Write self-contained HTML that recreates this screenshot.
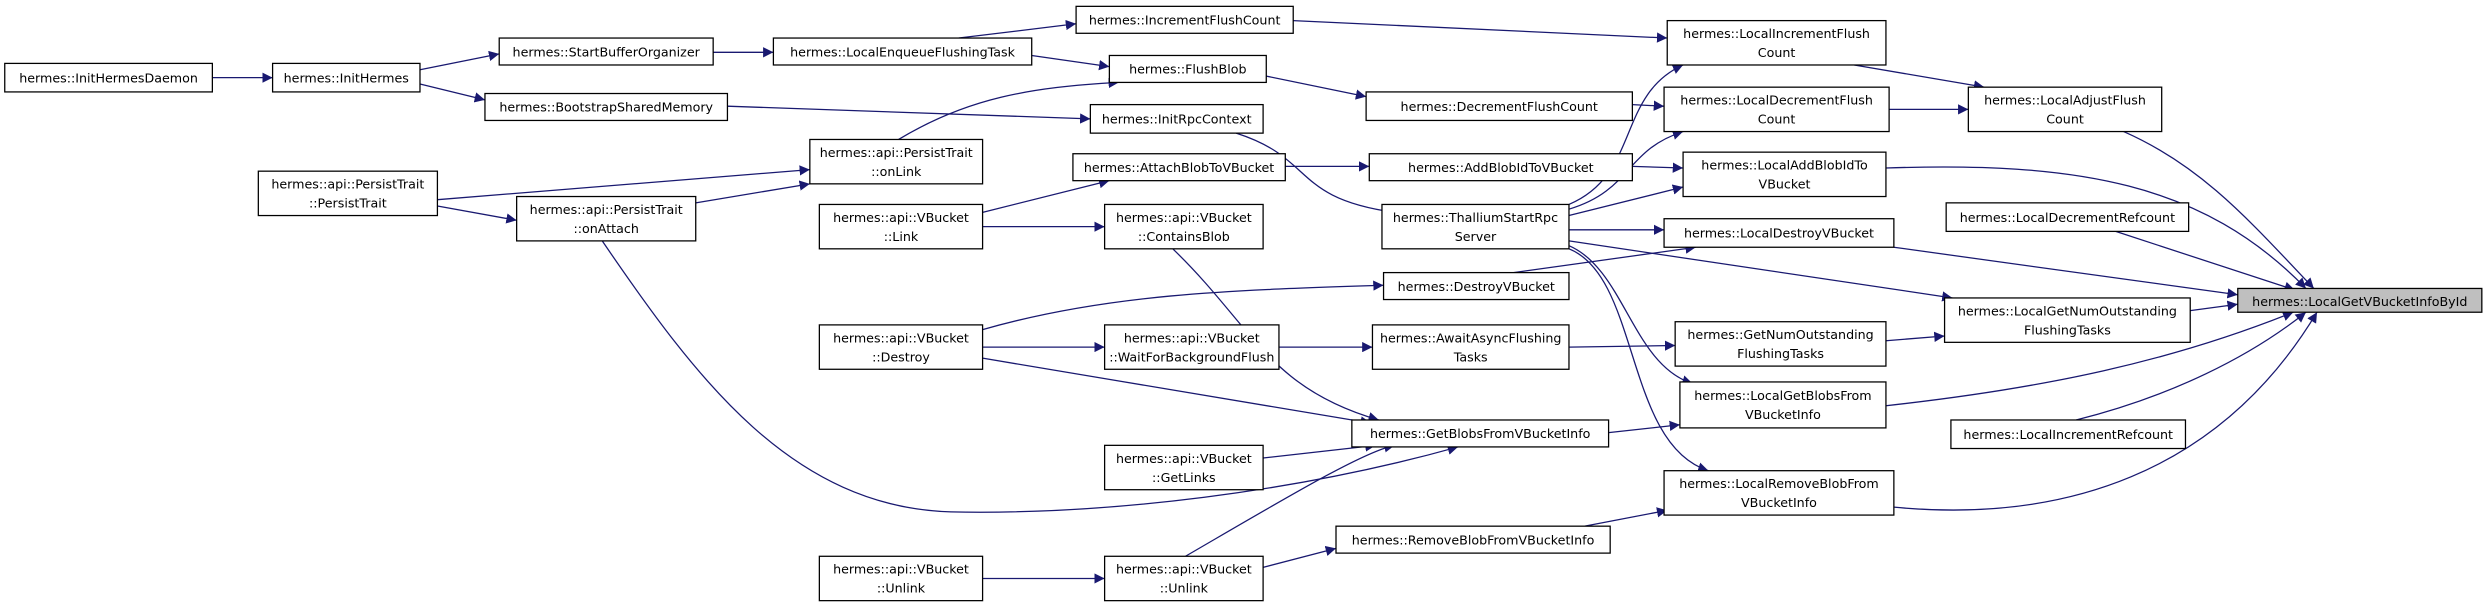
<!DOCTYPE html>
<html><head><meta charset="utf-8"><style>
html,body{margin:0;padding:0;background:#fff;}
svg{display:block;}
text{font-family:"DejaVu Sans","Liberation Sans",sans-serif;font-size:8px;fill:#000;}
.b{fill:#fff;stroke:#000;stroke-width:0.8;}
.e{fill:none;stroke:#191970;stroke-width:0.8;}
</style></head><body>
<svg width="2485" height="607" viewBox="0 0 1568 383" xmlns="http://www.w3.org/2000/svg">
<defs><marker id="a" viewBox="0 0 10 10" refX="10" refY="5" markerWidth="6.5" markerHeight="6.5" markerUnits="userSpaceOnUse" orient="auto"><path d="M0,0L10,5L0,10z" fill="#191970"/></marker></defs>
<g marker-end="url(#a)">
<path class="e" d="M134,49L172,49"/>
<path class="e" d="M265,44L315,34"/>
<path class="e" d="M265,53L306,63"/>
<path class="e" d="M450,33L488,33"/>
<path class="e" d="M605,24L679,15"/>
<path class="e" d="M651,35L700,42"/>
<path class="e" d="M567,88C610,62 650,55 706,52"/>
<path class="e" d="M459,67L688,75"/>
<path class="e" d="M816,13L1052,24"/>
<path class="e" d="M799,48L862,61"/>
<path class="e" d="M1030,66L1050,67"/>
<path class="e" d="M780,84C830,100 815,125 880,134"/>
<path class="e" d="M276,126L511,107"/>
<path class="e" d="M276,130L326,139"/>
<path class="e" d="M439,128L511,116"/>
<path class="e" d="M620,134L700,114"/>
<path class="e" d="M620,143L697,143"/>
<path class="e" d="M811,105L864,105"/>
<path class="e" d="M1030,105L1062,106"/>
<path class="e" d="M990,129C1035,110 1020,60 1062,41"/>
<path class="e" d="M990,132C1030,120 1025,95 1062,83"/>
<path class="e" d="M990,136L1062,118"/>
<path class="e" d="M990,145L1050,145"/>
<path class="e" d="M990,152L1232,188"/>
<path class="e" d="M990,155C1025,170 1030,230 1068,242"/>
<path class="e" d="M990,157C1035,175 1025,280 1078,297"/>
<path class="e" d="M955,172L1070,156"/>
<path class="e" d="M740,157C790,205 800,245 870,265"/>
<path class="e" d="M380,152C440,240 500,320 600,323C700,325 820,310 920,282"/>
<path class="e" d="M620,208C700,185 780,183 873,180"/>
<path class="e" d="M620,219L697,219"/>
<path class="e" d="M807,219L866,219"/>
<path class="e" d="M990,219L1057,218"/>
<path class="e" d="M1190,215L1227,212"/>
<path class="e" d="M620,226L865,267"/>
<path class="e" d="M797,289L868,281"/>
<path class="e" d="M748,351C810,315 860,285 880,281"/>
<path class="e" d="M620,365L697,365"/>
<path class="e" d="M797,358L843,346"/>
<path class="e" d="M1000,332L1052,322"/>
<path class="e" d="M1015,273L1060,268"/>
<path class="e" d="M1170,41L1252,55"/>
<path class="e" d="M1192,69L1242,69"/>
<path class="e" d="M1340,83C1390,105 1420,140 1460,182"/>
<path class="e" d="M1190,106C1310,102 1390,115 1455,182"/>
<path class="e" d="M1335,146L1448,183"/>
<path class="e" d="M1195,156L1412,186"/>
<path class="e" d="M1382,196L1412,192"/>
<path class="e" d="M1190,256C1290,245 1370,228 1447,197"/>
<path class="e" d="M1310,265C1370,250 1420,225 1455,197"/>
<path class="e" d="M1195,320C1300,330 1400,300 1462,197"/>
</g>

<g>
<rect class="b" x="3" y="40" width="131" height="18"/><text x="68.5" y="52" text-anchor="middle">hermes::InitHermesDaemon</text>
<rect class="b" x="172" y="40" width="93" height="18"/><text x="218.5" y="52" text-anchor="middle">hermes::InitHermes</text>
<rect class="b" x="315" y="24" width="135" height="17"/><text x="382.5" y="35.5" text-anchor="middle">hermes::StartBufferOrganizer</text>
<rect class="b" x="306" y="59" width="153" height="17"/><text x="382.5" y="70.5" text-anchor="middle">hermes::BootstrapSharedMemory</text>
<rect class="b" x="488" y="24" width="163" height="17"/><text x="569.5" y="35.5" text-anchor="middle">hermes::LocalEnqueueFlushingTask</text>
<rect class="b" x="679" y="4" width="137" height="17"/><text x="747.5" y="15.5" text-anchor="middle">hermes::IncrementFlushCount</text>
<rect class="b" x="700" y="35" width="99" height="17"/><text x="749.5" y="46.5" text-anchor="middle">hermes::FlushBlob</text>
<rect class="b" x="688" y="66" width="109" height="18"/><text x="742.5" y="78" text-anchor="middle">hermes::InitRpcContext</text>
<rect class="b" x="511" y="88" width="109" height="28"/><text x="565.5" y="99" text-anchor="middle">hermes::api::PersistTrait</text><text x="565.5" y="111" text-anchor="middle">::onLink</text>
<rect class="b" x="163" y="108" width="113" height="28"/><text x="219.5" y="119" text-anchor="middle">hermes::api::PersistTrait</text><text x="219.5" y="131" text-anchor="middle">::PersistTrait</text>
<rect class="b" x="326" y="124" width="113" height="28"/><text x="382.5" y="135" text-anchor="middle">hermes::api::PersistTrait</text><text x="382.5" y="147" text-anchor="middle">::onAttach</text>
<rect class="b" x="677" y="97" width="134" height="17"/><text x="744" y="108.5" text-anchor="middle">hermes::AttachBlobToVBucket</text>
<rect class="b" x="517" y="129" width="103" height="28"/><text x="568.5" y="140" text-anchor="middle">hermes::api::VBucket</text><text x="568.5" y="152" text-anchor="middle">::Link</text>
<rect class="b" x="697" y="129" width="100" height="28"/><text x="747" y="140" text-anchor="middle">hermes::api::VBucket</text><text x="747" y="152" text-anchor="middle">::ContainsBlob</text>
<rect class="b" x="862" y="58" width="168" height="18"/><text x="946" y="70" text-anchor="middle">hermes::DecrementFlushCount</text>
<rect class="b" x="864" y="97" width="166" height="17"/><text x="947" y="108.5" text-anchor="middle">hermes::AddBlobIdToVBucket</text>
<rect class="b" x="872" y="129" width="118" height="28"/><text x="931" y="140" text-anchor="middle">hermes::ThalliumStartRpc</text><text x="931" y="152" text-anchor="middle">Server</text>
<rect class="b" x="1052" y="13" width="138" height="28"/><text x="1121" y="24" text-anchor="middle">hermes::LocalIncrementFlush</text><text x="1121" y="36" text-anchor="middle">Count</text>
<rect class="b" x="1050" y="55" width="142" height="28"/><text x="1121" y="66" text-anchor="middle">hermes::LocalDecrementFlush</text><text x="1121" y="78" text-anchor="middle">Count</text>
<rect class="b" x="1062" y="96" width="128" height="28"/><text x="1126" y="107" text-anchor="middle">hermes::LocalAddBlobIdTo</text><text x="1126" y="119" text-anchor="middle">VBucket</text>
<rect class="b" x="1050" y="138" width="145" height="18"/><text x="1122.5" y="150" text-anchor="middle">hermes::LocalDestroyVBucket</text>
<rect class="b" x="1242" y="55" width="122" height="28"/><text x="1303" y="66" text-anchor="middle">hermes::LocalAdjustFlush</text><text x="1303" y="78" text-anchor="middle">Count</text>
<rect class="b" x="1228" y="128" width="153" height="18"/><text x="1304.5" y="140" text-anchor="middle">hermes::LocalDecrementRefcount</text>
<rect x="1412" y="182" width="154" height="15" fill="#bfbfbf" stroke="#000" stroke-width="0.8"/><text x="1489" y="193" text-anchor="middle">hermes::LocalGetVBucketInfoById</text>
<rect class="b" x="1227" y="188" width="155" height="28"/><text x="1304.5" y="199" text-anchor="middle">hermes::LocalGetNumOutstanding</text><text x="1304.5" y="211" text-anchor="middle">FlushingTasks</text>
<rect class="b" x="873" y="172" width="117" height="17"/><text x="931.5" y="183.5" text-anchor="middle">hermes::DestroyVBucket</text>
<rect class="b" x="517" y="205" width="103" height="28"/><text x="568.5" y="216" text-anchor="middle">hermes::api::VBucket</text><text x="568.5" y="228" text-anchor="middle">::Destroy</text>
<rect class="b" x="697" y="205" width="110" height="28"/><text x="752" y="216" text-anchor="middle">hermes::api::VBucket</text><text x="752" y="228" text-anchor="middle">::WaitForBackgroundFlush</text>
<rect class="b" x="866" y="205" width="124" height="28"/><text x="928" y="216" text-anchor="middle">hermes::AwaitAsyncFlushing</text><text x="928" y="228" text-anchor="middle">Tasks</text>
<rect class="b" x="1057" y="203" width="133" height="28"/><text x="1123.5" y="214" text-anchor="middle">hermes::GetNumOutstanding</text><text x="1123.5" y="226" text-anchor="middle">FlushingTasks</text>
<rect class="b" x="1060" y="241" width="130" height="29"/><text x="1125" y="252.5" text-anchor="middle">hermes::LocalGetBlobsFrom</text><text x="1125" y="264.5" text-anchor="middle">VBucketInfo</text>
<rect class="b" x="1231" y="265" width="148" height="18"/><text x="1305" y="277" text-anchor="middle">hermes::LocalIncrementRefcount</text>
<rect class="b" x="853" y="265" width="162" height="17"/><text x="934" y="276.5" text-anchor="middle">hermes::GetBlobsFromVBucketInfo</text>
<rect class="b" x="697" y="281" width="100" height="28"/><text x="747" y="292" text-anchor="middle">hermes::api::VBucket</text><text x="747" y="304" text-anchor="middle">::GetLinks</text>
<rect class="b" x="1050" y="297" width="145" height="28"/><text x="1122.5" y="308" text-anchor="middle">hermes::LocalRemoveBlobFrom</text><text x="1122.5" y="320" text-anchor="middle">VBucketInfo</text>
<rect class="b" x="843" y="332" width="173" height="17"/><text x="929.5" y="343.5" text-anchor="middle">hermes::RemoveBlobFromVBucketInfo</text>
<rect class="b" x="517" y="351" width="103" height="28"/><text x="568.5" y="362" text-anchor="middle">hermes::api::VBucket</text><text x="568.5" y="374" text-anchor="middle">::Unlink</text>
<rect class="b" x="697" y="351" width="100" height="28"/><text x="747" y="362" text-anchor="middle">hermes::api::VBucket</text><text x="747" y="374" text-anchor="middle">::Unlink</text>
</g>
</svg>
</body></html>
